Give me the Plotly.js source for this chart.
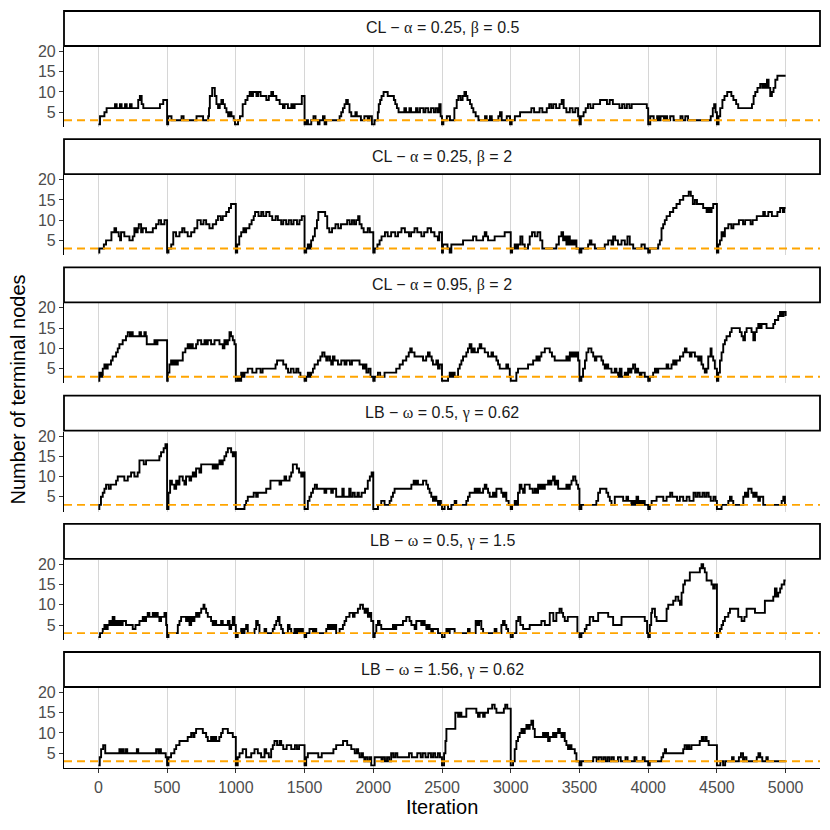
<!DOCTYPE html>
<html>
<head>
<meta charset="utf-8">
<script src="https://cdn.plot.ly/plotly-3.0.1.min.js"></script>
<style>
  body { margin: 0; background: #fff; }
  #plot { width: 830px; height: 830px; }
</style>
</head>
<body>
<div id="plot"></div>
<script>
// facet labels, top to bottom (greek letters set in a serif face like R plotmath)
const g = function (c) { return '<span style="font-family:Liberation Serif, DejaVu Serif, serif">' + c + '</span>'; };
const panelLabels = [
  'CL \u2212 ' + g('\u03b1') + ' = 0.25, ' + g('\u03b2') + ' = 0.5',
  'CL \u2212 ' + g('\u03b1') + ' = 0.25, ' + g('\u03b2') + ' = 2',
  'CL \u2212 ' + g('\u03b1') + ' = 0.95, ' + g('\u03b2') + ' = 2',
  'LB \u2212 ' + g('\u03c9') + ' = 0.5, ' + g('\u03b3') + ' = 0.62',
  'LB \u2212 ' + g('\u03c9') + ' = 0.5, ' + g('\u03b3') + ' = 1.5',
  'LB \u2212 ' + g('\u03c9') + ' = 1.56, ' + g('\u03b3') + ' = 0.62'
];
const refNodes = 3;
const iterTicks = [0, 500, 1000, 1500, 2000, 2500, 3000, 3500, 4000, 4500, 5000];
const nodeTicks = [5, 10, 15, 20];

// [iteration, number of terminal nodes] at every change of the chain (step trace)
const clA025B05 = [
  [0,2],[12,4],[44,5],[60,6],[121,7],[133,6],[157,7],[169,6],[194,7],[206,6],[230,7],[242,6],[290,8],[302,9],[315,7],[327,6],[448,7],[472,8],
  [500,2],[508,4],[532,3],[605,4],[620,3],[714,4],[762,3],[799,4],[805,6],[811,9],[828,11],[847,9],[859,7],[871,6],[883,7],[895,8],[907,7],[920,6],[932,5],[944,4],[956,5],[968,4],[985,3],[994,2],
  [1000,2],[1016,3],[1030,4],[1050,7],[1070,8],[1085,9],[1101,10],[1115,9],[1125,10],[1150,9],[1162,10],[1180,9],[1222,8],[1240,9],[1258,10],[1271,9],[1295,8],[1319,7],[1343,6],[1355,7],[1379,6],[1404,7],[1416,6],[1428,7],[1480,9],
  [1500,2],[1512,3],[1525,2],[1549,3],[1565,4],[1580,3],[1597,2],[1609,3],[1634,4],[1646,2],[1658,3],[1755,4],[1767,5],[1779,6],[1791,7],[1803,8],[1815,7],[1827,5],[1840,4],[1870,5],[1880,4],[1910,3],[1935,4],[1960,3],[1972,4],[1990,2],
  [2000,2],[2009,3],[2033,5],[2040,7],[2050,8],[2060,9],[2075,10],[2105,9],[2150,8],[2160,7],[2172,6],[2184,5],[2226,6],[2238,5],[2263,6],[2275,5],[2311,6],[2323,5],[2340,6],[2365,5],[2380,6],[2400,5],[2420,6],[2440,5],[2455,6],[2470,5],[2480,7],[2490,4],
  [2500,2],[2510,3],[2535,4],[2558,3],[2590,6],[2607,8],[2619,9],[2635,8],[2650,9],[2663,10],[2675,9],[2685,8],[2704,7],[2716,6],[2728,5],[2745,4],[2765,3],[2813,4],[2825,3],[2849,4],[2862,3],[2910,4],[2922,5],[2934,3],[2971,4],[2995,2],
  [3000,2],[3007,3],[3030,4],[3068,5],[3150,6],[3170,5],[3210,6],[3230,5],[3262,6],[3280,7],[3295,6],[3310,7],[3330,6],[3355,7],[3371,8],[3385,6],[3405,5],[3430,6],[3450,5],[3470,6],[3490,4],
  [3500,2],[3510,4],[3530,5],[3545,6],[3562,7],[3580,6],[3600,7],[3650,8],[3700,7],[3720,8],[3743,7],[3791,6],[3810,7],[3828,6],[3845,7],[3864,6],[3880,7],[3990,6],
  [4000,2],[4015,4],[4040,3],[4065,4],[4078,3],[4090,4],[4115,3],[4125,4],[4138,3],[4160,4],[4185,3],[4235,4],[4250,3],[4270,4],[4290,3],[4455,4],[4470,6],[4480,7],[4490,5],
  [4500,2],[4512,4],[4524,6],[4540,8],[4555,9],[4575,10],[4605,9],[4620,8],[4640,7],[4655,6],[4755,7],[4767,9],[4779,10],[4795,11],[4815,12],[4830,11],[4840,12],[4852,11],[4864,13],[4876,11],[4888,9],[4900,10],[4912,11],[4925,13],[4940,14],[5000,14]
];

const clA025B2 = [
  [0,2],[7,3],[40,4],[56,5],[95,7],[117,8],[129,7],[148,6],[158,5],[165,7],[189,6],[226,5],[250,6],[262,8],[275,7],[286,8],[294,9],[311,7],[323,8],[347,7],[396,8],[420,9],[439,10],[456,9],[481,10],
  [500,2],[510,3],[530,4],[545,7],[565,6],[590,7],[610,8],[626,7],[650,6],[675,7],[699,8],[720,10],[745,9],[765,10],[784,9],[808,8],[832,9],[857,10],[870,11],[890,10],[905,11],[930,12],[950,13],[965,14],
  [1000,2],[1010,4],[1025,6],[1039,7],[1055,8],[1065,7],[1075,8],[1099,9],[1115,10],[1130,11],[1140,12],[1165,11],[1185,12],[1200,11],[1221,12],[1245,11],[1265,10],[1290,11],[1306,10],[1330,9],[1345,10],[1366,9],[1385,10],[1403,9],[1420,10],[1445,9],[1463,10],[1480,11],
  [1500,2],[1512,3],[1524,4],[1536,3],[1548,5],[1561,6],[1575,8],[1590,10],[1600,12],[1650,11],[1665,8],[1680,7],[1700,8],[1725,9],[1745,8],[1765,9],[1810,10],[1828,9],[1845,10],[1860,9],[1875,10],[1890,11],[1900,9],[1915,8],[1930,7],[1960,8],[1975,7],
  [2000,2],[2010,3],[2030,4],[2046,5],[2060,6],[2085,7],[2105,6],[2130,7],[2160,6],[2180,7],[2205,8],[2230,7],[2260,6],[2275,7],[2300,8],[2320,7],[2350,6],[2370,7],[2395,8],[2420,7],[2445,6],[2470,5],[2480,7],
  [2500,2],[2507,4],[2540,3],[2556,2],[2568,4],[2653,5],[2726,6],[2750,5],[2799,6],[2811,7],[2823,6],[2835,5],[2883,6],[2956,7],
  [3000,2],[3010,3],[3029,4],[3041,3],[3053,4],[3070,6],[3085,4],[3102,3],[3126,4],[3138,6],[3155,7],[3175,6],[3195,7],[3215,5],[3230,3],[3332,4],[3350,6],[3369,7],[3381,5],[3393,6],[3405,4],[3417,6],[3430,4],[3442,5],[3454,4],[3466,5],[3478,3],
  [3500,2],[3514,3],[3563,4],[3575,5],[3587,4],[3612,3],[3684,4],[3709,5],[3733,4],[3745,6],[3760,5],[3780,4],[3806,5],[3830,4],[3849,6],[3866,4],[3891,3],[3951,4],[3975,3],
  [4000,2],[4012,3],[4073,4],[4085,5],[4097,8],[4109,9],[4121,10],[4134,11],[4158,12],[4182,13],[4206,14],[4230,15],[4255,16],[4295,17],[4310,16],[4325,14],[4340,15],[4355,14],[4400,13],[4425,12],[4437,13],[4449,12],[4461,13],[4473,14],
  [4500,2],[4510,4],[4522,5],[4534,7],[4546,6],[4558,8],[4583,9],[4605,8],[4620,9],[4660,10],[4690,9],[4705,10],[4745,9],[4760,10],[4790,11],[4837,12],[4849,11],[4874,12],[4900,11],[4940,12],[4960,13],[4980,12],[4990,13],[5000,13]
];

const clA095B2 = [
  [0,2],[7,4],[19,3],[32,5],[44,6],[56,5],[68,6],[92,7],[104,8],[129,9],[141,10],[153,11],[177,12],[201,13],[214,14],[230,13],[238,14],[250,13],[299,14],[310,13],[335,14],[345,13],[352,11],[408,12],[420,11],[430,12],
  [500,2],[505,4],[517,6],[529,7],[540,6],[553,7],[565,6],[578,7],[614,9],[633,10],[650,11],[663,10],[675,11],[687,10],[711,11],[723,12],[748,11],[772,12],[784,11],[796,12],[820,11],[845,12],[881,11],[905,10],[917,12],[930,11],[942,12],[954,14],[965,13],[978,12],[990,11],
  [1000,2],[1015,3],[1027,2],[1039,4],[1050,3],[1063,4],[1087,5],[1120,4],[1150,5],[1180,4],[1195,5],[1289,6],[1300,7],[1345,6],[1366,5],[1380,4],[1400,5],[1420,4],[1440,5],[1455,4],[1470,3],
  [1500,2],[1512,3],[1524,4],[1536,3],[1548,4],[1561,5],[1573,6],[1597,7],[1615,8],[1629,9],[1645,8],[1658,7],[1670,8],[1685,7],[1694,6],[1706,8],[1718,7],[1743,6],[1767,7],[1791,6],[1805,7],[1830,6],[1845,7],[1900,6],[1925,5],[1937,6],[1950,4],[1965,5],[1980,3],
  [2000,2],[2010,3],[2034,4],[2050,3],[2082,4],[2167,5],[2192,6],[2215,7],[2240,8],[2258,9],[2269,10],[2280,9],[2300,8],[2362,7],[2385,8],[2398,9],[2410,8],[2425,7],[2434,6],[2459,7],[2471,5],[2483,6],
  [2500,2],[2544,3],[2556,4],[2568,3],[2580,4],[2592,3],[2617,5],[2629,6],[2641,7],[2653,8],[2677,9],[2689,10],[2701,11],[2714,9],[2726,10],[2738,9],[2762,10],[2774,11],[2786,10],[2811,9],[2835,8],[2860,9],[2871,8],[2896,7],[2908,6],[2920,5],[2968,6],[2981,5],[2993,3],
  [3000,2],[3041,4],[3053,5],[3126,6],[3163,7],[3187,8],[3199,7],[3211,8],[3223,9],[3248,10],[3284,9],[3300,8],[3320,7],[3405,8],[3417,7],[3430,9],[3442,8],[3454,9],[3466,8],[3478,9],[3490,7],
  [3500,2],[3514,3],[3526,5],[3540,7],[3551,9],[3565,10],[3587,9],[3600,8],[3612,7],[3623,8],[3660,7],[3672,6],[3684,5],[3696,6],[3709,5],[3733,4],[3757,5],[3769,4],[3781,3],[3793,5],[3806,3],[3830,4],[3842,3],[3854,5],[3866,4],[3878,5],[3890,6],[3905,4],[3915,5],[3927,4],[3939,3],[3951,4],[3975,3],
  [4000,2],[4012,3],[4036,4],[4049,5],[4061,4],[4073,5],[4134,6],[4146,5],[4170,6],[4182,7],[4194,6],[4206,7],[4231,8],[4255,9],[4267,10],[4279,9],[4303,8],[4315,9],[4340,8],[4364,7],[4376,8],[4388,6],[4400,5],[4412,4],[4425,5],[4437,8],[4454,10],[4461,8],[4473,7],[4485,5],
  [4500,2],[4510,4],[4522,7],[4534,9],[4546,11],[4558,12],[4570,13],[4595,14],[4607,15],[4667,14],[4680,13],[4692,12],[4704,14],[4716,15],[4752,14],[4765,12],[4777,14],[4789,15],[4801,16],[4813,15],[4825,16],[4861,15],[4910,16],[4922,17],[4946,18],[4959,19],[4971,18],[4985,19],[5000,18]
];

const lbW05G062 = [
  [0,2],[7,3],[19,5],[32,6],[44,7],[56,8],[75,7],[90,8],[129,9],[141,10],[189,9],[214,10],[238,11],[262,10],[286,11],[299,14],[330,13],[347,14],[444,15],[456,16],[475,17],[488,18],
  [500,2],[510,6],[522,9],[535,8],[553,7],[566,9],[578,8],[590,10],[614,9],[626,8],[638,10],[663,9],[675,10],[687,11],[699,10],[711,12],[735,11],[748,13],[832,12],[845,13],[857,12],[869,13],[881,14],[893,13],[905,14],[917,15],[930,16],[942,17],[966,16],[978,15],[990,16],
  [1000,2],[1063,3],[1075,4],[1087,5],[1130,6],[1148,5],[1160,6],[1221,7],[1252,9],[1318,8],[1330,9],[1354,10],[1366,9],[1391,10],[1403,11],[1415,13],[1444,12],[1460,11],[1476,10],[1490,11],
  [1500,2],[1524,4],[1536,5],[1548,6],[1561,7],[1575,8],[1590,7],[1645,6],[1658,7],[1694,6],[1706,7],[1730,5],[1775,7],[1785,5],[1825,7],[1835,5],[1850,6],[1865,5],[1885,6],[1895,5],[1915,6],[1940,7],[1960,9],[1975,10],[1988,11],
  [2000,2],[2034,3],[2058,4],[2082,3],[2119,4],[2131,5],[2143,6],[2155,7],[2277,8],[2294,9],[2301,8],[2313,9],[2325,8],[2362,9],[2386,8],[2398,7],[2410,6],[2422,5],[2434,4],[2446,5],[2459,4],[2471,3],[2483,4],[2492,3],
  [2500,2],[2519,3],[2544,2],[2568,3],[2592,4],[2604,3],[2677,4],[2689,5],[2701,6],[2738,7],[2750,6],[2762,7],[2775,6],[2799,7],[2811,8],[2823,7],[2835,6],[2847,5],[2871,6],[2883,5],[2896,7],[2932,6],[2944,5],[2956,6],[2968,4],[2985,3],
  [3000,2],[3010,3],[3029,4],[3041,3],[3053,6],[3065,8],[3078,7],[3090,6],[3102,8],[3138,7],[3160,6],[3175,7],[3187,6],[3199,8],[3211,7],[3223,8],[3235,7],[3248,8],[3272,9],[3284,8],[3296,9],[3308,10],[3320,8],[3332,9],[3345,7],[3405,8],[3417,7],[3430,8],[3442,9],[3454,10],[3470,9],[3478,8],[3490,7],
  [3500,2],[3514,3],[3623,4],[3636,6],[3650,7],[3696,6],[3709,5],[3721,4],[3733,3],[3757,5],[3818,4],[3842,5],[3854,4],[3878,3],[3891,4],[3903,3],[3915,5],[3927,3],[3939,4],[3951,3],[3963,4],[3975,3],
  [4000,2],[4012,3],[4025,4],[4061,5],[4110,4],[4134,5],[4160,6],[4175,5],[4210,4],[4230,5],[4255,4],[4280,5],[4300,4],[4330,6],[4345,5],[4360,6],[4375,5],[4395,6],[4410,5],[4425,6],[4440,5],[4455,4],[4475,5],[4490,4],
  [4500,2],[4534,3],[4583,4],[4595,5],[4607,4],[4619,3],[4692,5],[4704,6],[4716,5],[4728,7],[4752,6],[4764,5],[4777,6],[4789,5],[4801,4],[4813,5],[4837,3],[4971,4],[4983,5],[4995,3],[5000,3]
];

const lbW05G15 = [
  [0,2],[12,3],[32,4],[44,5],[56,4],[68,5],[80,6],[92,5],[104,7],[117,5],[129,6],[141,5],[153,6],[165,5],[177,6],[201,5],[250,4],[270,5],[299,6],[323,7],[335,6],[347,7],[359,8],[371,7],[396,8],[408,7],[420,8],[432,7],[444,6],[456,7],[481,8],[493,5],
  [500,2],[510,3],[578,5],[590,6],[602,7],[638,6],[650,7],[663,5],[675,7],[687,6],[699,7],[711,8],[723,7],[735,8],[748,9],[765,10],[772,9],[784,8],[796,7],[820,6],[832,5],[845,6],[857,5],[893,6],[905,5],[942,6],[954,4],[966,5],[978,7],[990,5],
  [1000,2],[1014,3],[1039,4],[1051,3],[1063,4],[1075,5],[1087,3],[1136,4],[1148,6],[1160,5],[1172,3],[1209,4],[1221,3],[1269,4],[1281,5],[1294,6],[1306,7],[1318,5],[1330,4],[1342,3],[1379,5],[1391,4],[1403,3],[1427,4],[1439,3],[1451,4],[1463,3],[1476,4],[1488,3],
  [1500,2],[1512,3],[1536,4],[1561,3],[1573,4],[1585,3],[1658,4],[1670,5],[1682,4],[1694,5],[1706,4],[1718,5],[1730,3],[1755,4],[1779,5],[1791,6],[1803,7],[1827,8],[1852,7],[1864,8],[1888,9],[1905,10],[1925,9],[1937,8],[1949,9],[1961,7],[1973,8],[1985,6],
  [2000,2],[2010,3],[2022,5],[2034,6],[2046,5],[2058,4],[2143,5],[2155,4],[2167,5],[2216,6],[2240,7],[2264,6],[2277,5],[2301,4],[2313,6],[2349,5],[2362,6],[2374,5],[2386,4],[2398,5],[2410,4],[2422,3],[2434,4],[2471,3],
  [2500,2],[2519,3],[2532,4],[2544,3],[2556,4],[2592,3],[2689,4],[2701,3],[2745,6],[2756,5],[2770,6],[2786,4],[2799,3],[2883,4],[2896,3],[2932,5],[2944,6],[2956,5],[2968,4],[2981,3],
  [3000,2],[3015,3],[3041,6],[3055,7],[3070,5],[3090,4],[3138,5],[3223,6],[3248,5],[3284,8],[3310,6],[3332,8],[3355,9],[3370,8],[3381,7],[3393,6],[3415,7],[3485,3],
  [3500,2],[3514,3],[3539,4],[3551,5],[3575,7],[3600,6],[3636,8],[3709,7],[3745,5],[3806,7],[3975,6],[3992,3],
  [4000,2],[4012,5],[4022,8],[4029,9],[4049,7],[4061,6],[4134,9],[4146,10],[4182,11],[4200,12],[4219,11],[4231,10],[4243,13],[4255,15],[4267,16],[4303,18],[4376,19],[4388,20],[4400,19],[4412,18],[4425,16],[4461,15],[4473,14],[4485,15],
  [4500,2],[4510,3],[4522,4],[4534,5],[4545,6],[4558,7],[4583,8],[4595,9],[4655,7],[4680,6],[4700,7],[4716,9],[4777,8],[4849,11],[4910,12],[4922,14],[4934,12],[4946,13],[4960,14],[4971,15],[4990,16],[5000,16]
];

const lbW156G062 = [
  [0,2],[10,4],[20,6],[35,7],[50,5],[153,6],[165,5],[177,6],[185,5],[201,6],[210,5],[280,6],[290,5],[420,6],[435,5],[445,6],[455,5],[490,4],
  [500,2],[510,4],[529,5],[553,6],[566,7],[590,8],[650,9],[675,10],[690,9],[699,10],[711,11],[760,10],[784,9],[796,8],[820,9],[832,8],[845,9],[857,8],[880,9],[893,10],[905,11],[942,10],[978,9],
  [1000,2],[1014,4],[1027,5],[1050,6],[1075,4],[1112,5],[1136,6],[1160,5],[1184,4],[1209,6],[1221,5],[1240,4],[1257,6],[1269,7],[1281,8],[1300,7],[1318,8],[1330,7],[1345,6],[1370,7],[1403,6],[1430,7],[1445,6],[1460,7],
  [1500,2],[1512,4],[1524,5],[1600,4],[1625,5],[1710,6],[1730,7],[1780,8],[1810,7],[1840,6],[1865,5],[1880,6],[1890,5],[1900,4],[1915,5],[1925,4],[1935,3],[1945,4],[1960,3],[1975,4],[1985,2],
  [2000,2],[2010,4],[2060,3],[2070,4],[2085,3],[2100,4],[2115,3],[2130,5],[2145,4],[2160,5],[2175,4],[2260,5],[2280,4],[2320,5],[2345,4],[2360,5],[2380,4],[2400,5],[2420,4],[2435,5],[2450,4],[2470,5],[2485,4],
  [2500,2],[2515,5],[2525,8],[2532,11],[2597,15],[2617,14],[2629,15],[2641,14],[2677,16],[2750,15],[2762,14],[2774,15],[2799,14],[2811,15],[2835,16],[2865,17],[2883,16],[2896,15],[2950,16],[2960,17],[2975,16],
  [3000,2],[3017,3],[3029,6],[3041,8],[3053,9],[3065,10],[3078,11],[3090,10],[3102,11],[3114,12],[3126,11],[3138,12],[3150,13],[3163,11],[3175,9],[3235,10],[3248,9],[3260,10],[3272,8],[3284,9],[3308,10],[3320,9],[3332,10],[3345,11],[3357,10],[3369,9],[3381,10],[3393,8],[3405,7],[3417,6],[3430,7],[3442,6],[3466,5],[3478,3],
  [3500,2],[3514,3],[3600,4],[3625,3],[3640,4],[3660,3],[3675,4],[3690,3],[3705,4],[3720,3],[3735,4],[3750,3],[3780,4],[3800,3],[3835,4],[3850,3],[3900,4],[3915,3],[3960,4],[3975,3],
  [4000,2],[4012,3],[4097,4],[4109,5],[4121,6],[4130,5],[4255,6],[4265,7],[4280,6],[4290,7],[4300,6],[4315,7],[4375,8],[4390,9],[4400,8],[4415,9],[4425,8],[4440,7],
  [4500,2],[4525,3],[4545,2],[4560,3],[4610,4],[4622,3],[4660,4],[4675,5],[4690,3],[4700,4],[4715,3],[4790,4],[4802,5],[4815,4],[4830,3],[4860,4],[4870,3],[5000,3]
];

const panelSeries = [clA025B05, clA025B2, clA095B2, lbW05G062, lbW05G15, lbW156G062];

// page geometry in pixels
const areaTop = 11, areaBottom = 768, pitch = 128.2;
const stripH = 35, panelTop = 36, panelBottom = 116;
const toPaper = function (py) { return (areaBottom - py) / (areaBottom - areaTop); };

const fam = 'Liberation Sans, Arial, sans-serif';
const axisFont = {family: fam, size: 16, color: '#4D4D4D'};
const traces = [];
const shapes = [];
const annotations = [];
const layout = {
  width: 830,
  height: 830,
  margin: {l: 64, r: 10, t: areaTop, b: 830 - areaBottom},
  paper_bgcolor: '#ffffff',
  plot_bgcolor: '#ffffff',
  showlegend: false,
  font: {family: fam, color: '#000'}
};

panelSeries.forEach(function (series, i) {
  const n = i + 1;
  const xa = n === 1 ? 'x' : 'x' + n;
  const ya = n === 1 ? 'y' : 'y' + n;
  const off = areaTop + pitch * i;
  const last = n === panelSeries.length;

  traces.push({
    x: series.map(function (p) { return p[0]; }),
    y: series.map(function (p) { return p[1]; }),
    xaxis: xa,
    yaxis: ya,
    type: 'scatter',
    mode: 'lines',
    line: {color: '#000000', width: 1.9, shape: 'hv'},
    hoverinfo: 'skip'
  });

  layout['xaxis' + (n === 1 ? '' : n)] = {
    domain: [0, 1],
    anchor: ya,
    range: [-250, 5250],
    tickvals: iterTicks,
    ticktext: iterTicks.map(String),
    showticklabels: last,
    ticks: last ? 'outside' : '',
    ticklen: 4,
    tickcolor: '#333333',
    tickfont: axisFont,
    showgrid: true,
    gridcolor: '#D6D6D6',
    gridwidth: 1,
    zeroline: false,
    showline: last,
    linecolor: '#000000',
    linewidth: 1.3
  };
  layout['yaxis' + (n === 1 ? '' : n)] = {
    domain: [toPaper(off + panelBottom), toPaper(off + panelTop)],
    anchor: xa,
    range: [1.35, 21.1],
    tickvals: nodeTicks,
    ticks: 'outside',
    ticklen: 4,
    tickcolor: '#333333',
    tickfont: axisFont,
    showgrid: false,
    zeroline: false,
    showline: true,
    linecolor: '#000000',
    linewidth: 1.1
  };

  // reference line at the minimum number of terminal nodes
  shapes.push({
    type: 'line', layer: 'above',
    xref: xa + ' domain', x0: 0, x1: 1,
    yref: ya, y0: refNodes, y1: refNodes,
    line: {color: '#FFA500', width: 1.9, dash: '8px,5px'}
  });

  // facet strip
  shapes.push({
    type: 'rect', layer: 'above',
    xref: 'paper', x0: 0, x1: 1,
    yref: 'paper', y0: toPaper(off + stripH), y1: toPaper(off),
    fillcolor: '#ffffff',
    line: {color: '#000000', width: 1.8}
  });
  annotations.push({
    xref: 'paper', yref: 'paper',
    x: 0.5, y: toPaper(off + stripH / 2),
    xanchor: 'center', yanchor: 'middle',
    text: panelLabels[i],
    showarrow: false,
    font: {family: fam, size: 16, color: '#1A1A1A'}
  });
});

annotations.push({
  xref: 'paper', yref: 'paper',
  x: 0.5, y: toPaper(807),
  xanchor: 'center', yanchor: 'middle',
  text: 'Iteration', showarrow: false,
  font: {family: fam, size: 20, color: '#000'}
});
annotations.push({
  xref: 'paper', yref: 'paper',
  x: (17 - 64) / 756, y: 0.5,
  xanchor: 'center', yanchor: 'middle',
  textangle: -90,
  text: 'Number of terminal nodes', showarrow: false,
  font: {family: fam, size: 20, color: '#000'}
});

layout.shapes = shapes;
layout.annotations = annotations;

Plotly.newPlot('plot', traces, layout, {displayModeBar: false, staticPlot: true});
</script>
</body>
</html>
